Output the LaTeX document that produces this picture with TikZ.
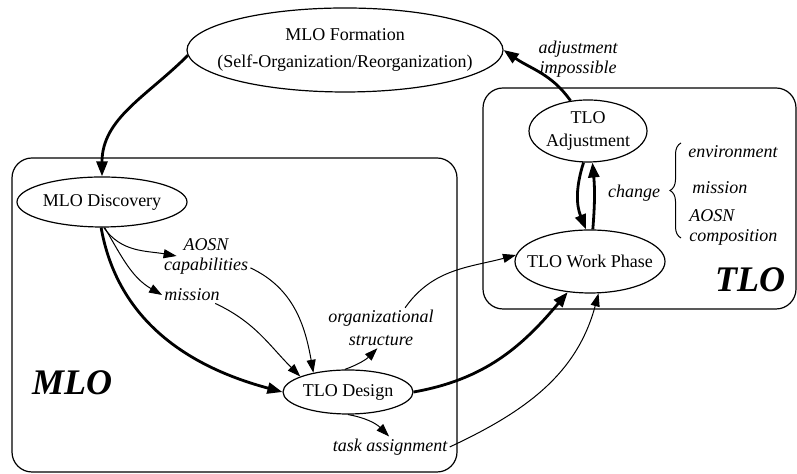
\documentclass[tikz,border=0pt]{standalone}
\usepackage{fontspec}
\setmainfont{Liberation Serif}
\usetikzlibrary{arrows.meta,shapes.geometric,decorations.pathreplacing}

\begin{document}
\begin{tikzpicture}[x=0.5pt,y=0.5pt,>={Triangle[length=6.5pt,width=4.5pt]},
    font=\fontsize{9}{11}\selectfont]
  \tikzset{
    st/.style={ellipse,draw=black,line width=0.6pt,inner ysep=0pt,align=center},
    note/.style={font=\fontsize{9}{10}\selectfont\itshape,inner sep=1pt,align=center},
    flow/.style={->,line width=0.5pt},
    main/.style={-{Triangle[length=7.5pt,width=5.5pt]},line width=1.4pt},
    clus/.style={draw=black,line width=0.6pt,rounded corners=10pt},
    clabel/.style={font=\fontsize{18}{20}\selectfont\bfseries\itshape,inner sep=0pt},
  }
  \useasboundingbox (0,0) rectangle (797,474);

  % clusters
  \draw[clus] (12,2) rectangle (457,316);
  \draw[clus] (483,165) rectangle (796,386);
  \node[clabel] (mlo) at (72,91) {MLO};
  \node[clabel] (tlo) at (750,194) {TLO};

  % states
  \node[st,inner xsep=-8pt,minimum width=158pt,minimum height=42pt] (form) at (345,424)
    {MLO Formation\\[2.5pt](Self-Organization/Reorganization)};
  \node[st,inner xsep=-1pt,minimum width=85pt,minimum height=25pt] (disc) at (102,272) {MLO Discovery};
  \node[st,inner xsep=-1pt,minimum width=59pt,minimum height=31pt] (adj) at (588,343) {TLO\\[0.5pt]Adjustment};
  \node[st,inner xsep=-5.5pt,minimum width=75pt,minimum height=31.5pt] (work) at (590,212.5) {TLO Work Phase};
  \node[st,inner xsep=0pt,minimum width=65pt,minimum height=22pt] (design) at (348,82) {TLO Design};

  % labels
  \node[note] (cap) at (206,218) {AOSN\\capabilities};
  \node[note] (mis) at (192,179) {mission};
  \node[note,font=\fontsize{9}{11.5}\selectfont\itshape] (org) at (381,146) {organizational\\structure};
  \node[note] (task) at (390,27) {task assignment};
  \node[note] (adjimp) at (578,415) {adjustment\\impossible};
  \node[note] (chg) at (634,281) {change};
  \node[note,anchor=west] (env) at (686,322) {environment};
  \node[note,anchor=west] (mis2) at (690,286) {mission};
  \node[note,anchor=west,align=left] (comp) at (687,247) {AOSN\\composition};

  \coordinate (btop) at (681,331);
  \coordinate (bbot) at (681,236);
  \draw[line width=0.5pt,decorate,decoration={brace,amplitude=5.5pt}] (bbot) -- (btop);

  % thick flow
  \draw[main] (form.182) to[out=225,in=90] (disc.north);
  \draw[main] (disc.268) to[out=-80,in=165] (design.west);
  \draw[main] (design.east) to[out=10,in=-130] (work.234);
  \draw[main] (adj.120) to[out=125,in=-35] (form.east);
  \draw[main] (adj.262) to[bend right=20] (work.97);
  \draw[main] (work.85) to[bend right=5] (adj.278);

  % thin flow
  \draw[flow] (disc.274) to[out=-55,in=170] ([xshift=7.5pt]cap.west);
  \draw[flow] (disc.276) to[out=-60,in=150] (mis.west);
  \draw[flow] (cap.-15) to[out=-25,in=100] (design.151);
  \draw[flow] (mis.-20) to[out=-25,in=135] (design.162);
  \draw[flow] (design.98) to[out=20,in=-135] (org.-100);
  \draw[flow] (org.40) to[out=55,in=195] (work.175);
  \draw[flow] (design.south) to[out=-10,in=135] (task.95);
  \draw[flow] (task.east) to[out=25,in=-105] (work.-75);
\end{tikzpicture}
\end{document}
